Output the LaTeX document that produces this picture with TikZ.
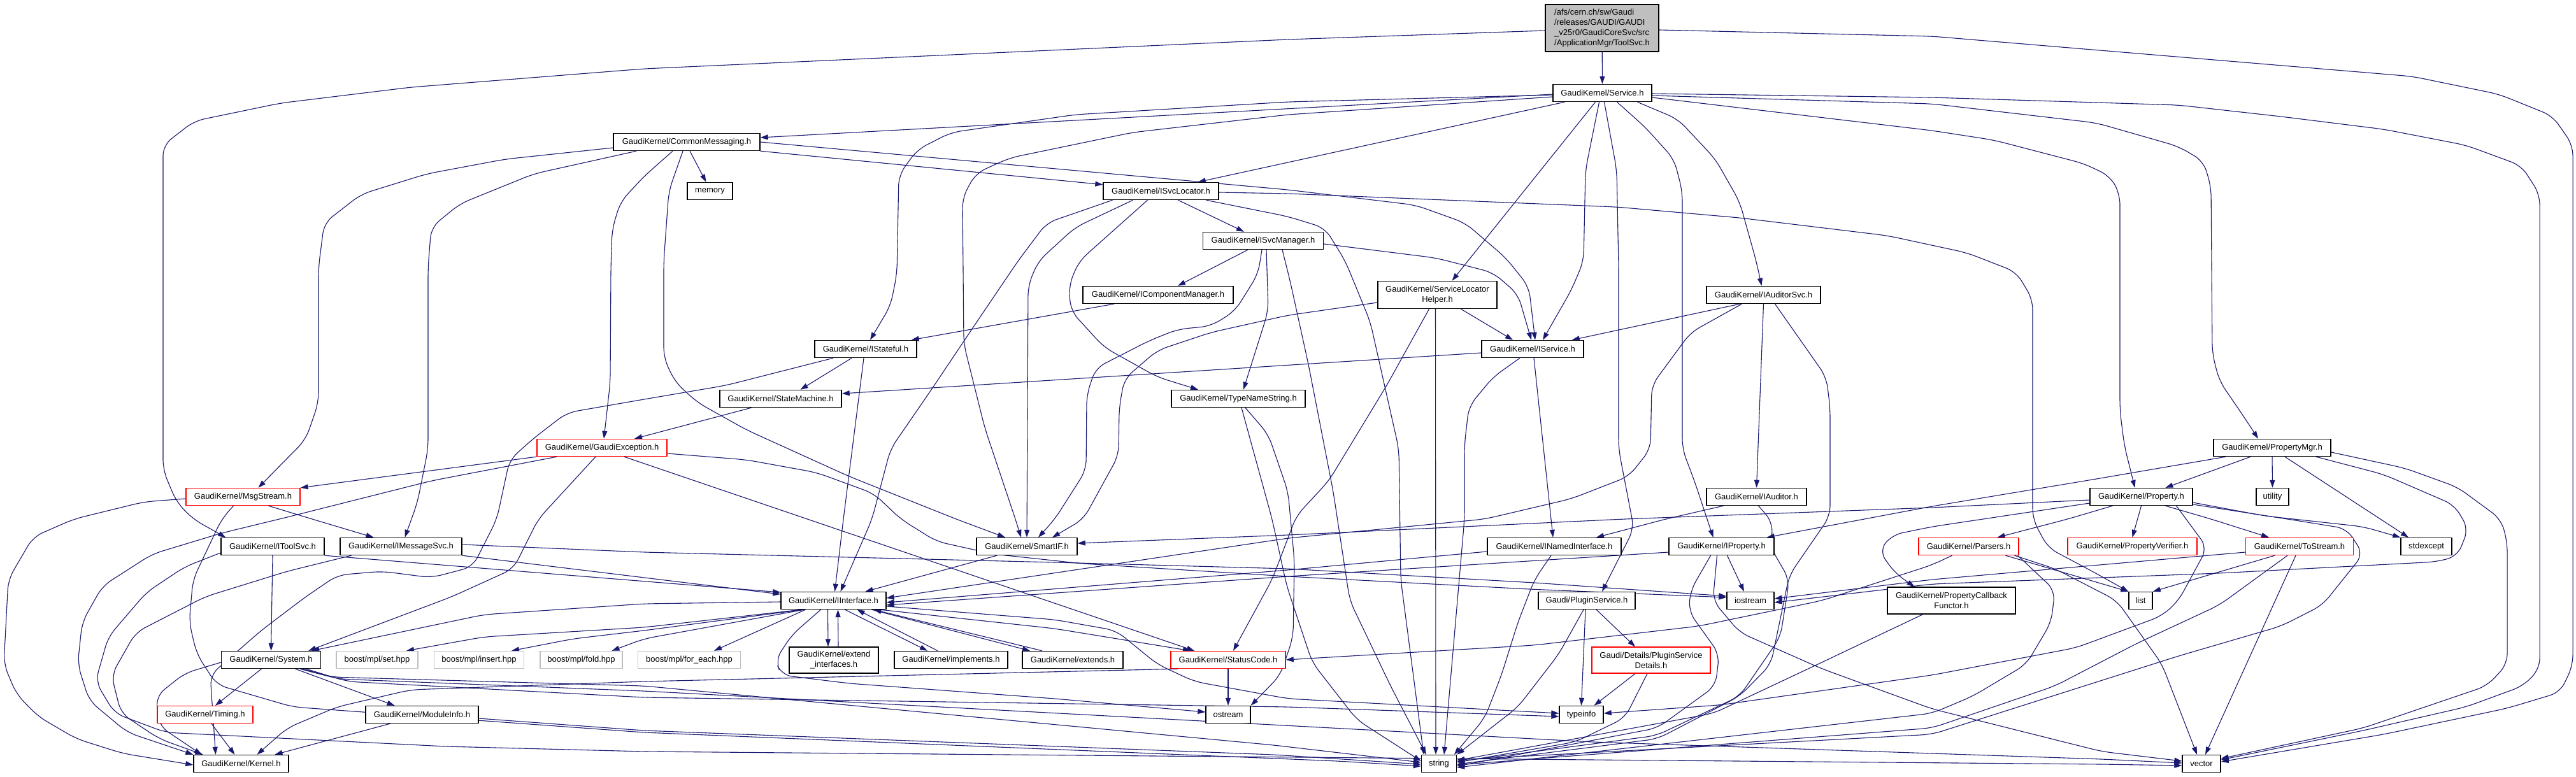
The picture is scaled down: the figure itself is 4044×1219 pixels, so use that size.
\documentclass[tikz,border=0pt]{standalone}
\usepackage{fontspec}
\setmainfont{Liberation Sans}
\usetikzlibrary{arrows.meta,backgrounds}
\definecolor{edgeblue}{HTML}{191970}
\definecolor{lgray}{HTML}{BFBFBF}
\tikzset{
  nb/.style={draw=black, line width=1.4pt, fill=white, inner sep=0pt, minimum height=27pt, font=\fontsize{13pt}{16pt}\selectfont, align=center},
  nr/.style={nb, draw=red},
  ng/.style={nb, draw=lgray},
  edg/.style={draw=edgeblue, line width=1.1pt, -{Triangle[length=12pt,width=8pt]}, rounded corners=16pt},
}
\begin{document}
\begin{tikzpicture}[x=1pt,y=-1pt]
\useasboundingbox (0,0) rectangle (4044,1219);
% nodes
\node[nb, fill=lgray, minimum width=178pt, minimum height=74pt, align=left] (root) at (2515,44) {/afs/cern.ch/sw/Gaudi\\/releases/GAUDI/GAUDI\\\_v25r0/GaudiCoreSvc/src\\/ApplicationMgr/ToolSvc.h};
\node[nb, minimum width=155pt] (service) at (2515.5,146) {GaudiKernel/Service.h};
\node[nb, minimum width=230pt] (commonmsg) at (1078,223) {GaudiKernel/CommonMessaging.h};
\node[nb, minimum width=71pt] (memory) at (1114.5,300) {memory};
\node[nb, minimum width=181pt] (isvcloc) at (1822.5,300) {GaudiKernel/ISvcLocator.h};
\node[nb, minimum width=189pt] (isvcmgr) at (1983,378) {GaudiKernel/ISvcManager.h};
\node[nb, minimum width=236pt] (icompmgr) at (1818,463) {GaudiKernel/IComponentManager.h};
\node[nb, minimum width=187pt, minimum height=43pt] (svclochelper) at (2256.5,463) {GaudiKernel/ServiceLocator\\Helper.h};
\node[nb, minimum width=179pt] (iauditorsvc) at (2768.5,463) {GaudiKernel/IAuditorSvc.h};
\node[nb, minimum width=160pt] (istateful) at (1359,548) {GaudiKernel/IStateful.h};
\node[nb, minimum width=160pt] (iservice) at (2406,548) {GaudiKernel/IService.h};
\node[nb, minimum width=191pt] (statemachine) at (1225.5,626) {GaudiKernel/StateMachine.h};
\node[nb, minimum width=210pt] (typename) at (1944,626) {GaudiKernel/TypeNameString.h};
\node[nr, minimum width=204pt] (gaudiexc) at (945,703) {GaudiKernel/GaudiException.h};
\node[nb, minimum width=184pt] (propertymgr) at (3567,703) {GaudiKernel/PropertyMgr.h};
\node[nr, minimum width=179pt] (msgstream) at (381.5,780) {GaudiKernel/MsgStream.h};
\node[nb, minimum width=157pt] (iauditor) at (2757.5,780) {GaudiKernel/IAuditor.h};
\node[nb, minimum width=161pt] (property) at (3361.5,780) {GaudiKernel/Property.h};
\node[nb, minimum width=51pt] (utility) at (3567.5,780) {utility};
\node[nb, minimum width=162pt] (itoolsvc) at (428,858) {GaudiKernel/IToolSvc.h};
\node[nb, minimum width=191pt] (imessagesvc) at (629.5,858) {GaudiKernel/IMessageSvc.h};
\node[nb, minimum width=158pt] (smartif) at (1612,858) {GaudiKernel/SmartIF.h};
\node[nb, minimum width=210pt] (inamedinterface) at (2440,858) {GaudiKernel/INamedInterface.h};
\node[nb, minimum width=165pt] (iproperty) at (2702.5,858) {GaudiKernel/IProperty.h};
\node[nr, minimum width=157pt] (parsers) at (3090.5,858) {GaudiKernel/Parsers.h};
\node[nr, minimum width=203pt] (propverifier) at (3347.5,858) {GaudiKernel/PropertyVerifier.h};
\node[nr, minimum width=169pt] (tostream) at (3610,858) {GaudiKernel/ToStream.h};
\node[nb, minimum width=80pt] (stdexcept) at (3809,858) {stdexcept};
\node[nb, minimum width=165pt] (iinterface) at (1308.5,943) {GaudiKernel/IInterface.h};
\node[nb, minimum width=152pt] (pluginservice) at (2491,943) {Gaudi/PluginService.h};
\node[nb, minimum width=74pt] (iostream) at (2748,943) {iostream};
\node[nb, minimum width=201pt, minimum height=42pt] (propcallback) at (3063.5,943) {GaudiKernel/PropertyCallback\\Functor.h};
\node[nb, minimum width=37pt] (list) at (3360.5,943) {list};
\node[nb, minimum width=156pt] (system) at (425.5,1036) {GaudiKernel/System.h};
\node[ng, minimum width=128pt] (mplset) at (592,1036) {boost/mpl/set.hpp};
\node[ng, minimum width=141pt] (mplinsert) at (752,1036) {boost/mpl/insert.hpp};
\node[ng, minimum width=129pt] (mplfold) at (912.5,1036) {boost/mpl/fold.hpp};
\node[ng, minimum width=161pt] (mplforeach) at (1082,1036) {boost/mpl/for\_each.hpp};
\node[nb, minimum width=140pt, minimum height=41pt] (extendif) at (1309,1036.5) {GaudiKernel/extend\\\_interfaces.h};
\node[nb, minimum width=178pt] (implements) at (1493,1036) {GaudiKernel/implements.h};
\node[nb, minimum width=158pt] (extends) at (1684,1036) {GaudiKernel/extends.h};
\node[nr, minimum width=180pt] (statuscode) at (1928,1036) {GaudiKernel/StatusCode.h};
\node[nr, minimum width=186pt, minimum height=41pt] (plugindetails) at (2592,1036.5) {Gaudi/Details/PluginService\\Details.h};
\node[nr, minimum width=150pt] (timing) at (322,1122) {GaudiKernel/Timing.h};
\node[nb, minimum width=177pt] (moduleinfo) at (662.5,1122) {GaudiKernel/ModuleInfo.h};
\node[nb, minimum width=70pt] (ostream) at (1928,1122) {ostream};
\node[nb, minimum width=69pt] (typeinfo) at (2482.5,1122) {typeinfo};
\node[nb, minimum width=149pt] (kernel) at (378.5,1199) {GaudiKernel/Kernel.h};
\node[nb, minimum width=55pt] (string) at (2259,1199) {string};
\node[nb, minimum width=60pt] (vector) at (3456,1199) {vector};

\begin{scope}[on background layer]
\fill[white] (0,0) rectangle (4044,1219);
% root
\draw[edg] (root) -- (service);
\draw[edg] ([yshift=-4pt]root.west) -- (2022,62) -- (1011,108) -- (645,137) -- (440,162) -- (305,190) -- (256,228) -- (256,738) -- (277,788) -- (303,815) -- ([xshift=8pt]itoolsvc.north west);
\draw[edg] ([yshift=-3pt]root.east) -- (3033,57) -- (3787,120) -- (3923,148) -- (4007,182) -- (4039,228) -- (4039,1045) -- (4019,1087) -- (3936,1112) -- (3742,1153) -- ([yshift=3pt]vector.east);
% service
\draw[edg] ([yshift=-2pt]service.west) -- ([yshift=7pt]commonmsg.east);
\draw[edg] ([yshift=-3pt]service.west) -- (2022,160) -- (1688,180) -- (1493,208) -- (1440,235) -- (1411,275) -- (1408,430) -- (1398,480) -- ([xshift=7pt]istateful.north);
\draw[edg] ([yshift=-6pt]service.west) -- (2022,180) -- (1778,208) -- (1585,248) -- (1532,272) -- (1511,310) -- (1513,540) -- (1546,672) -- (1594,815) -- ([xshift=-9pt]smartif.north);
\draw[edg] ([xshift=19pt]service.south west) -- ([xshift=-33pt]isvcloc.north east);
\draw[edg] ([xshift=-11pt]service.south) -- ([xshift=23pt]svclochelper.north);
\draw[edg] ([xshift=-5pt]service.south) -- (2489,267) -- (2486,410) -- (2467,455) -- ([xshift=16pt]iservice.north);
\draw[edg] ([xshift=3pt]service.south) -- (2538,267) -- (2541,420) -- (2541,705) -- (2565,830) -- ([xshift=24pt]pluginservice.north);
\draw[edg] ([xshift=23pt]service.south) -- (2583,200) -- (2628,250) -- (2641,300) -- (2641,705) -- (2660,755) -- ([xshift=-13pt]iproperty.north);
\draw[edg] ([xshift=55pt]service.south) -- (2634,187) -- (2693,250) -- (2731,317) -- (2757,410) -- ([xshift=-3pt]iauditorsvc.north);
\draw[edg] ([yshift=-1pt]service.east) -- (3033,153) -- (3420,165) -- (3581,183) -- (3742,203) -- (3871,228) -- (3958,260) -- (3987,305) -- (3987,1050) -- (3961,1077) -- (3871,1110) -- (3710,1147) -- ([yshift=6pt]vector.east);
\draw[edg] ([yshift=-4pt]service.east) -- (3033,163) -- (3291,193) -- (3420,230) -- (3459,253) -- (3471,293) -- (3473,555) -- (3484,598) -- (3523,655) -- ([xshift=-22pt]propertymgr.north);
\draw[edg] ([yshift=-7pt]service.east) -- (3033,205) -- (3130,220) -- (3272,257) -- (3313,277) -- (3328,305) -- (3328,645) -- (3335,700) -- ([xshift=-10pt]property.north);
% commonmessaging
\draw[edg] ([xshift=5pt]commonmsg.south) -- ([xshift=-6pt]memory.north);
\draw[edg] (commonmsg.south east) -- ([yshift=-4pt]isvcloc.north west);
\draw[edg] (commonmsg.east) -- (2022,298) -- (2222,322) -- (2300,350) -- (2364,405) -- (2400,450) -- ([xshift=4pt]iservice.north);
\draw[edg] ([yshift=-9pt]commonmsg.west) -- (793,250) -- (670,273) -- (567,305) -- (509,350) -- (500,420) -- (500,632) -- (480,690) -- ([xshift=24pt]msgstream.north);
\draw[edg] ([xshift=-79pt]commonmsg.south) -- (838,273) -- (722,320) -- (677,357) -- (672,420) -- (672,705) -- (655,790) -- ([xshift=6pt]imessagesvc.north);
\draw[edg] ([xshift=-22pt]commonmsg.south) -- (1011,277) -- (974,317) -- (961,360) -- (959,420) -- (958,600) -- ([xshift=3pt]gaudiexc.north);
\draw[edg] ([xshift=-6pt]commonmsg.south) -- (1050,300) -- (1042,410) -- (1042,562) -- (1060,600) -- (1095,632) -- (1172,675) -- (1333,748) -- (1501,815) -- ([xshift=-34pt]smartif.north);
% isvclocator
\draw[edg] ([yshift=-2pt]isvcloc.east) -- (2022,304) -- (2538,325) -- (2731,342) -- (2963,370) -- (3088,397) -- (3165,427) -- (3191,470) -- (3191,815) -- (3215,860) -- (3290,900) -- (list.north west);
\draw[edg] ([xshift=71pt]isvcloc.south) -- (2022,340) -- (2080,358) -- (2112,410) -- (2151,505) -- (2196,705) -- (2199,910) -- ([xshift=-24pt]string.north);
\draw[edg] ([xshift=27pt]isvcloc.south) -- ([xshift=-30pt]isvcmgr.north);
\draw[edg] ([xshift=-76pt]isvcloc.south) -- (1643,350) -- (1598,410) -- (1527,515) -- (1462,612) -- (1398,705) -- (1369,815) -- ([xshift=11pt]iinterface.north);
\draw[edg] ([xshift=-44pt]isvcloc.south) -- (1688,357) -- (1630,410) -- (1614,448) -- (smartif.north);
\draw[edg] ([xshift=-21pt]isvcloc.south) -- (1694,410) -- (1678,448) -- (1681,488) -- (1733,545) -- (1817,592) -- ([xshift=-63pt]typename.north);
% isvcmanager
\draw[edg] ([xshift=-24pt]isvcmgr.south) -- ([xshift=31pt]icompmgr.north);
\draw[edg] ([yshift=-5pt]isvcmgr.east) -- (2254,405) -- (2344,428) -- (2383,462) -- ([xshift=-2pt]iservice.north);
\draw[edg] ([xshift=-2pt]isvcmgr.south) -- (1975,430) -- (1939,488) -- (1901,512) -- (1849,517) -- (1804,535) -- (1720,578) -- (1706,620) -- (1705,738) -- (1656,815) -- ([xshift=18pt]smartif.north);
\draw[edg] ([xshift=5pt]isvcmgr.south) -- (1991,488) -- ([xshift=8pt]typename.north);
\draw[edg] ([xshift=30pt]isvcmgr.south) -- (2025,440) -- (2054,572) -- (2093,772) -- (2119,943) -- (2183,1077) -- ([xshift=-20pt]string.north);
% icomponentmanager
\draw[edg] ([xshift=-69pt]icompmgr.south) -- ([xshift=-9pt]istateful.north east);
% servicelocatorhelper
\draw[edg] ([xshift=37pt]svclochelper.south) -- ([xshift=-31pt]iservice.north);
\draw[edg] ([xshift=-3pt]svclochelper.south) -- ([xshift=-5pt]string.north);
\draw[edg] ([xshift=-13pt]svclochelper.south) -- (2177,605) -- (2086,755) -- (2035,810) -- (2020,850) -- (1997,910) -- ([xshift=8pt]statuscode.north);
\draw[edg] ([yshift=-12pt]svclochelper.west) -- (2022,495) -- (1901,522) -- (1817,550) -- (1765,595) -- (1757,640) -- (1756,715) -- (1701,815) -- ([xshift=40pt]smartif.north);
% iauditorsvc
\draw[edg] ([xshift=-37pt]iauditorsvc.south) -- ([xshift=-19pt]iservice.north east);
\draw[edg] (iauditorsvc.south) -- (iauditor.north);
\draw[edg] ([xshift=18pt]iauditorsvc.south) -- (2867,592) -- (2873,640) -- (2873,810) -- (2809,903) -- (2780,1043) -- (2731,1093) -- (2602,1160) -- ([yshift=-1pt]string.east);
\draw[edg] ([xshift=-34pt]iauditorsvc.south) -- (2654,522) -- (2593,605) -- (2591,705) -- (2557,748) -- (2467,783) -- (2331,815) -- (2022,845) -- ([yshift=4pt]iinterface.east);
% iauditor
\draw[edg] ([xshift=-52pt]iauditor.south) -- (2615,815) -- ([xshift=66pt]inamedinterface.north);
\draw[edg] ([xshift=3pt]iauditor.south) -- (2783,820) -- (2780,860) -- (2809,910) -- (2795,1000) -- (2731,1093) -- (2600,1155) -- ([yshift=3pt]string.east);
% istateful
\draw[edg] ([xshift=-22pt]istateful.south) -- ([xshift=31pt]statemachine.north);
\draw[edg] ([xshift=-3pt]istateful.south) -- (1324,815) -- ([xshift=2pt]iinterface.north);
\draw[edg] ([xshift=-51pt]istateful.south) -- (1140,605) -- (1011,627) -- (890,648) -- (838,688) -- (800,722) -- (780,815) -- (742,890) -- (677,907) -- (600,897) -- (530,903) -- (480,937) -- (410,990) -- (330,1060) -- ([xshift=-40pt]kernel.north);
% iservice
\draw[edg] ([yshift=-6pt]iservice.west) -- ([yshift=8pt]statemachine.east);
\draw[edg] ([xshift=-20pt]iservice.south) -- (2344,592) -- (2306,638) -- (2299,698) -- (2299,815) -- ([xshift=8pt]string.north);
\draw[edg] ([xshift=2pt]iservice.south) -- ([xshift=-2pt]inamedinterface.north);
% statemachine
\draw[edg] ([xshift=-46pt]statemachine.south) -- ([xshift=51pt]gaudiexc.north);
% typenamestring
\draw[edg] ([xshift=5pt]typename.south) -- (1997,815) -- (2020,920) -- (2060,1040) -- (2130,1130) -- ([yshift=4pt]string.west);
\draw[edg] ([xshift=11pt]typename.south) -- (1991,682) -- (2022,772) -- (2032,880) -- (2030,1000) -- (2010,1060) -- (ostream.north east);
% gaudiexception
\draw[edg] (gaudiexc.south west) -- (msgstream.north east);
\draw[edg] ([xshift=35pt]gaudiexc.south) -- ([xshift=-53pt]statuscode.north);
\draw[edg] ([yshift=-9pt]gaudiexc.east) -- (1172,722) -- (1282,742) -- (1372,775) -- (1414,815) -- (1470,850) -- (1560,870) -- (1700,885) -- (2022,905) -- (2400,925) -- ([yshift=5pt]iostream.west);
\draw[edg] ([xshift=-10pt]gaudiexc.south) -- (845,815) -- (806,893) -- (709,937) -- ([xshift=-20pt]system.north east);
\draw[edg] ([xshift=-71pt]gaudiexc.south) -- (677,755) -- (451,812) -- (348,837) -- (239,870) -- (161,920) -- (129,977) -- (122,1043) -- (140,1100) -- (200,1150) -- (kernel.north west);
% msgstream
\draw[edg] ([xshift=40pt]msgstream.south) -- (490,815) -- ([xshift=-43pt]imessagesvc.north);
\draw[edg] ([yshift=-3pt]msgstream.west) -- (226,788) -- (116,815) -- (52,843) -- (13,910) -- (6,1043) -- (26,1090) -- (60,1125) -- (120,1160) -- (193,1183) -- ([yshift=-2pt]kernel.west);
\draw[edg] ([xshift=-15pt]msgstream.south) -- (348,815) -- (303,910) -- (297,977) -- (309,1027) -- (340,1075) -- (460,1110) -- (1011,1150) -- (2100,1195) -- ([yshift=-4pt]string.west);
% itoolsvc
\draw[edg] (itoolsvc.south) -- (system.north);
\draw[edg] (itoolsvc.south east) -- ([yshift=13pt]iinterface.west);
\draw[edg] ([yshift=-10pt]itoolsvc.west) -- (290,890) -- (230,930) -- (170,1000) -- (150,1070) -- (180,1120) -- (260,1150) -- (700,1172) -- (1011,1180) -- (3300,1200) -- ([yshift=-3pt]vector.west);
% imessagesvc
\draw[edg] (imessagesvc.south east) -- ([yshift=10pt]iinterface.west);
\draw[edg] ([yshift=3pt]imessagesvc.east) -- (1011,867) -- (1656,883) -- (2022,893) -- (2409,915) -- ([yshift=7pt]iostream.west);
\draw[edg] ([xshift=-78pt]imessagesvc.south) -- (451,897) -- (322,937) -- (213,993) -- (175,1060) -- (190,1120) -- (250,1160) -- ([xshift=-60pt]kernel.north);
% smartif
\draw[edg] ([xshift=-47pt]smartif.south) -- ([xshift=50pt]iinterface.north);
% inamedinterface
\draw[edg] ([yshift=-8pt]inamedinterface.west) -- (2022,895) -- ([yshift=-3pt]iinterface.east);
\draw[edg] ([xshift=-5pt]inamedinterface.south) -- (2409,910) -- (2383,977) -- (2357,1060) -- (2331,1127) -- ([xshift=24pt]string.north);
% iproperty
\draw[edg] ([yshift=-9pt]iproperty.west) -- (2022,905) -- ([yshift=-7pt]iinterface.east);
\draw[edg] ([xshift=9pt]iproperty.south) -- ([xshift=-10pt]iostream.north);
\draw[edg] ([xshift=-17pt]iproperty.south) -- (2654,927) -- (2651,960) -- (2699,1027) -- (2693,1077) -- (2602,1143) -- ([yshift=-4pt]string.east);
\draw[edg] ([xshift=-7pt]iproperty.south) -- (2689,943) -- (2731,993) -- (2860,1050) -- (3033,1113) -- (3300,1180) -- ([yshift=4pt]vector.west);
% pluginservice
\draw[edg] ([xshift=15pt]pluginservice.south) -- ([xshift=-25pt]plugindetails.north);
\draw[edg] ([xshift=-2pt]pluginservice.south) -- (typeinfo.north);
\draw[edg] ([xshift=-5pt]pluginservice.south) -- (2447,1027) -- (2383,1110) -- (string.north east);
\draw[edg] ([xshift=-25pt]plugindetails.south) -- ([xshift=20pt]typeinfo.north);
\draw[edg] ([xshift=-6pt]plugindetails.south) -- (2551,1127) -- (2473,1165) -- ([yshift=2pt]string.east);
% property
\draw[edg] ([yshift=-5pt]property.west) -- (3033,797) -- (2550,815) -- (2022,840) -- ([yshift=5pt]smartif.east);
\draw[edg] ([yshift=-10pt]property.west) -- (3033,827) -- (2970,840) -- (2950,865) -- (2975,900) -- ([xshift=-58pt]propcallback.north);
\draw[edg] ([xshift=-45pt]property.south) -- (3246,815) -- ([xshift=45pt]parsers.north);
\draw[edg] (property.south) -- (propverifier.north);
\draw[edg] ([xshift=38pt]property.south) -- (3471,815) -- ([xshift=-48pt]tostream.north);
\draw[edg] ([yshift=-9pt]property.east) -- (3555,810) -- (3710,827) -- (stdexcept.north west);
\draw[edg] ([xshift=55pt]property.south) -- (3465,860) -- (3420,943) -- (3394,967) -- (3259,1017) -- (3033,1060) -- (2700,1107) -- ([yshift=2pt]typeinfo.east);
\draw[edg] ([yshift=-12pt]property.east) -- (3591,815) -- (3684,830) -- (3710,870) -- (3646,950) -- (3581,983) -- (3420,1030) -- (3033,1153) -- ([yshift=6pt]string.east);
% tostream
\draw[edg] ([xshift=-39pt]tostream.south) -- (list.north east);
\draw[edg] ([xshift=-6pt]tostream.south) -- ([xshift=6pt]vector.north);
\draw[edg] ([xshift=-19pt]tostream.south) -- (3484,950) -- (3355,1010) -- (3226,1077) -- (3033,1143) -- ([yshift=-2pt]string.east);
\draw[edg] ([yshift=-9pt]tostream.west) -- (3033,910) -- ([yshift=3pt]iostream.east);
% parsers
\draw[edg] ([xshift=-26pt]parsers.south) -- (3033,887) -- (2860,943) -- (2667,983) -- (2409,1013) -- (statuscode.east);
\draw[edg] ([xshift=58pt]parsers.south) -- (list.north west);
\draw[edg] ([xshift=72pt]parsers.south) -- (3226,893) -- (3323,943) -- (3394,1043) -- ([xshift=-7pt]vector.north);
\draw[edg] ([xshift=77pt]parsers.south) -- (3226,927) -- (3220,977) -- (3181,1043) -- (3097,1093) -- (3033,1120) -- ([yshift=-6pt]string.east);
% propertymgr
\draw[edg] ([xshift=-34pt]propertymgr.south) -- ([xshift=38pt]property.north);
\draw[edg] (propertymgr.south) -- (utility.north);
\draw[edg] ([xshift=-73pt]propertymgr.south) -- (3291,752) -- (3033,795) -- ([xshift=-12pt]iproperty.north east);
\draw[edg] ([xshift=20pt]propertymgr.south) -- ([xshift=-28pt]stdexcept.north);
\draw[edg] ([xshift=69pt]propertymgr.south) -- (3742,745) -- (3853,793) -- (3875,830) -- (3858,873) -- (3826,882) -- (3484,900) -- (3033,917) -- ([yshift=-3pt]iostream.east);
\draw[edg] ([yshift=-7pt]propertymgr.east) -- (3775,735) -- (3858,765) -- (3926,815) -- (3936,850) -- (3936,1043) -- (3904,1077) -- (3710,1143) -- ([yshift=8pt]vector.east);
% propcallback
\draw[edg] ([xshift=-45pt]propcallback.south) -- (2860,1040) -- (2690,1120) -- ([yshift=5pt]string.east);
% system
\draw[edg] ([yshift=-4pt]system.west) -- (290,1057) -- (245,1093) -- (250,1140) -- ([xshift=-62pt]kernel.north);
\draw[edg] ([xshift=-15pt]system.south) -- ([xshift=16pt]timing.north);
\draw[edg] ([xshift=38pt]system.south) -- ([xshift=-43pt]moduleinfo.north);
\draw[edg] ([xshift=45pt]system.south) -- (520,1063) -- (1011,1077) -- (2000,1170) -- ([yshift=2pt]string.west);
\draw[edg] ([xshift=50pt]system.south) -- (530,1066) -- (1011,1085) -- (2500,1165) -- (3300,1192) -- ([yshift=1pt]vector.west);
\draw[edg] ([xshift=55pt]system.south) -- (545,1070) -- (1011,1095) -- (2022,1110) -- ([yshift=-3pt]typeinfo.west);
% timing, moduleinfo
\draw[edg] ([xshift=10pt]timing.south) -- ([xshift=-10pt]kernel.north);
\draw[edg] ([xshift=-50pt]moduleinfo.south) -- ([xshift=53pt]kernel.north);
\draw[edg] ([yshift=-6pt]moduleinfo.east) -- (1011,1147) -- (2000,1185) -- ([yshift=-1pt]string.west);
% statuscode
\draw[edg] (statuscode.south) -- (ostream.north);
\draw[edg] ([xshift=-79pt]statuscode.south) -- (1011,1070) -- (645,1083) -- (529,1110) -- (451,1143) -- ([xshift=25pt]kernel.north);
% iinterface
\draw[edg] ([yshift=-2pt]iinterface.west) -- (1011,948) -- (760,965) -- ([xshift=-15pt]system.north east);
\draw[edg] ([xshift=-50pt]iinterface.south) -- (1011,985) -- (760,1000) -- ([xshift=46pt]mplset.north);
\draw[edg] ([xshift=-48pt]iinterface.south) -- (1011,990) -- (900,1003) -- ([xshift=51pt]mplinsert.north);
\draw[edg] ([xshift=-46pt]iinterface.south) -- (1011,1003) -- ([xshift=48pt]mplfold.north);
\draw[edg] ([xshift=-44pt]iinterface.south) -- ([xshift=39pt]mplforeach.north);
\draw[edg] ([xshift=-9pt]iinterface.south) -- ([xshift=-9pt]extendif.north);
\draw[edg] ([xshift=7pt]extendif.north) -- ([xshift=7pt]iinterface.south);
\draw[edg] ([xshift=18pt]iinterface.south) -- ([xshift=-37pt]implements.north);
\draw[edg] ([xshift=-21pt]implements.north) -- ([xshift=37pt]iinterface.south);
\draw[edg] ([xshift=60pt]iinterface.south) -- ([xshift=-67pt]extends.north);
\draw[edg] ([xshift=-48pt]extends.north) -- ([xshift=63pt]iinterface.south);
\draw[edg] ([xshift=73pt]iinterface.south) -- (1656,987) -- ([xshift=-59pt]statuscode.north);
\draw[edg] ([xshift=-20pt]iinterface.south) -- (1243,997) -- (1217,1037) -- (1227,1060) -- (1333,1073) -- (1656,1097) -- ([yshift=4pt]ostream.west);
\draw[edg] ([yshift=-9pt]iinterface.east) -- (1656,973) -- (1752,990) -- (1817,1043) -- (1875,1070) -- (2022,1097) -- ([yshift=2pt]typeinfo.west);
\end{scope}
\end{tikzpicture}
\end{document}
